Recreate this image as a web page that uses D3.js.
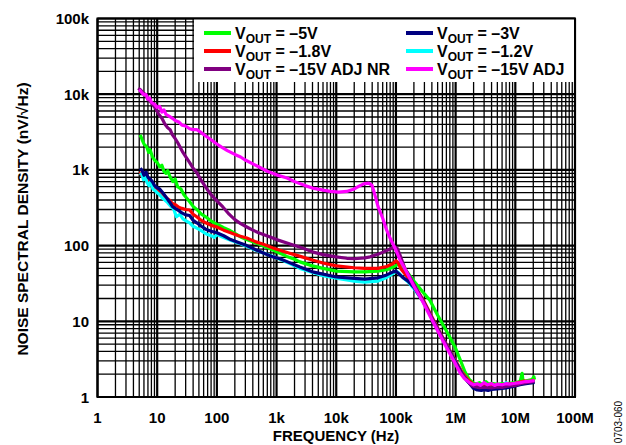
<!DOCTYPE html>
<html><head><meta charset="utf-8">
<script src="https://cdn.jsdelivr.net/npm/d3@7"></script>
<style>body{margin:0;background:#fff}svg{display:block}text{font-family:"Liberation Sans",Arial,sans-serif}</style>
</head><body><svg id="c" width="626" height="445"></svg>
<script>
const xTickLabels = ["1","10","100","1k","10k","100k","1M","10M","100M"];
const yTickLabels = ["1","10","100","1k","10k","100k"];
const legendNames = ["= \u20135V","= \u20131.8V","= \u201315V ADJ NR","= \u20133V","= \u20131.2V","= \u201315V ADJ"];
const legendColors = ["#00ff00","#ff0000","#800080","#000080","#00ffff","#ff00ff"];

const vout5 = [[5.2,2900],[5.6,2500],[6,2200],[6.7,2000],[7.2,1700],[7.6,1850],[8.3,1500],[9,1350],[10,1250],[11,1100],[12,1150],[13,950],[14,900],[15,980],[16.5,800],[18.4,700],[20,760],[22,600],[25,560],[28,470],[31.6,420],[35,380],[40,330],[46,300],[55,260],[65,240],[76,218],[90,200],[110,185],[130,172],[166,158],[200,145],[250,130],[300,122],[400,112],[590,100],[800,90],[1000,83],[1490,72],[2000,66],[2460,61],[4000,54],[6000,50],[10000,46],[20000,45],[30000,45],[50000,46],[70000,48],[90000,52],[110000,57],[125000,55],[150000,46],[200000,34],[300000,23],[370000,19],[500000,12],[700000,7.5],[1e6,4.4],[1.44e6,2.14],[1.7e6,1.7],[2e6,1.52],[2.3e6,1.5],[2.5e6,1.55],[2.8e6,1.45],[3.2e6,1.6],[3.6e6,1.48],[4e6,1.52],[5e6,1.47],[6e6,1.5],[7e6,1.5],[8e6,1.52],[1e7,1.55],[1.2e7,1.6],[1.3e7,2.05],[1.35e7,1.6],[1.6e7,1.65],[1.9e7,1.7],[2.05e7,1.85],[2.1e7,1.7]];
const vout18 = [[5.2,950],[5.6,820],[6,900],[6.5,760],[7,700],[7.6,740],[8.3,640],[9,600],[10,560],[11,520],[12.5,480],[14,430],[16,400],[18,360],[20,350],[23,320],[26,310],[30,300],[35,295],[40,260],[46,240],[55,215],[65,200],[80,185],[100,176],[130,160],[170,148],[230,135],[317,126],[450,112],[600,104],[870,93],[1140,87],[1600,80],[2500,72],[4100,64],[6000,59],[10000,54],[20000,51],[30000,50],[50000,50],[70000,53],[90000,58],[100000,63],[108000,60],[120000,50],[150000,40],[200000,30],[283000,19.5],[400000,11.5],[630000,5.8],[1e6,3],[1.3e6,2.1],[1.6e6,1.7],[2e6,1.45],[2.5e6,1.42],[3e6,1.5],[3.5e6,1.4],[4e6,1.45],[5e6,1.42],[6e6,1.46],[8e6,1.48],[1e7,1.52],[1.2e7,1.58],[1.4e7,1.62],[1.7e7,1.6],[2.1e7,1.68]];
const vout15nr = [[4.8,12000],[5.2,11500],[5.8,10400],[6.5,9800],[7,8500],[7.5,8200],[8.5,7200],[9.5,6400],[10.5,5500],[12,4800],[13.5,4000],[15,3600],[16.5,3400],[18,2900],[20,2600],[22,2300],[25,1900],[27,1700],[30,1500],[35,1250],[40,1050],[46,920],[55,720],[68,560],[80,470],[100,390],[126,324],[160,260],[200,220],[250,195],[317,176],[400,160],[500,148],[778,130],[1000,120],[1680,105],[2500,95],[4100,82],[6000,76],[10000,71],[15000,68],[20000,67],[30000,69],[37000,71],[50000,77],[61000,82],[80000,90],[96000,96],[105000,92],[117000,75],[141000,50],[200000,31],[283000,19],[400000,11],[630000,5.6],[1e6,2.8],[1.2e6,2.15],[1.5e6,1.7],[1.8e6,1.45],[2e6,1.38],[2.5e6,1.33],[3e6,1.35],[4e6,1.32],[5e6,1.36],[6e6,1.34],[7e6,1.38],[8e6,1.4],[1e7,1.42],[1.2e7,1.5],[1.5e7,1.55],[2e7,1.6],[2.1e7,1.62]];
const vout3 = [[5.2,1050],[5.6,980],[6,850],[6.5,930],[7,800],[7.6,760],[8.3,700],[9,620],[10,580],[11,560],[12.5,495],[14,440],[16,380],[18,330],[20,310],[23,290],[26,270],[30,255],[35,250],[40,215],[46,200],[55,180],[65,165],[80,155],[100,148],[130,135],[170,120],[230,110],[317,100],[450,88],[600,80],[870,71],[1140,67],[1600,60],[2460,52],[4000,45],[6000,42],[10000,38.5],[20000,37],[30000,36],[50000,37.5],[70000,41],[90000,45],[100000,46],[110000,43],[130000,38],[160000,34],[200000,28],[283000,18.5],[400000,11],[630000,5.6],[1e6,2.9],[1.3e6,2.0],[1.6e6,1.6],[2e6,1.3],[2.3e6,1.24],[2.7e6,1.22],[3e6,1.25],[3.5e6,1.22],[4e6,1.26],[5e6,1.28],[6e6,1.3],[7e6,1.32],[8e6,1.35],[1e7,1.4],[1.2e7,1.45],[1.5e7,1.5],[2e7,1.55],[2.1e7,1.56]];
const vout12 = [[5.2,850],[5.5,900],[5.9,740],[6.3,800],[6.8,680],[7.3,620],[7.8,700],[8.5,560],[9.3,530],[10,500],[11,470],[12,430],[13,410],[15,370],[17,330],[19,300],[21,240],[24,260],[27,225],[31,210],[35,200],[40,180],[46,170],[53,160],[60,150],[70,140],[80,135],[90,128],[100,140],[130,128],[170,118],[230,108],[317,98],[450,87],[600,80],[870,72],[1140,66],[1600,59],[2460,50],[4000,44],[6000,40],[10000,37],[20000,34],[30000,33],[50000,34],[70000,38],[90000,43],[100000,46],[110000,44],[130000,38],[160000,33],[200000,27],[283000,18.5],[400000,11],[630000,5.6],[1e6,2.9],[1.3e6,2.0],[1.6e6,1.6],[2e6,1.35],[2.5e6,1.3],[3e6,1.33],[4e6,1.3],[5e6,1.35],[6e6,1.38],[7e6,1.55],[7.3e6,1.4],[8e6,1.42],[1e7,1.45],[1.2e7,1.5],[1.5e7,1.55],[2e7,1.58],[2.1e7,1.6]];
const vout15adj = [[5,11500],[5.5,10500],[6,9800],[6.5,9900],[7,8600],[7.5,8900],[8,7800],[9,7400],[10,6700],[11,6900],[12,5800],[13,6200],[14,5400],[16,5100],[18,4800],[20,4500],[23,4300],[26,3900],[30,3800],[35,3500],[40,3400],[46,3400],[55,3100],[65,2800],[80,2500],[100,2200],[120,2000],[150,1800],[200,1600],[250,1480],[300,1350],[400,1200],[500,1100],[700,960],[1000,860],[1500,780],[2000,700],[3000,620],[4000,575],[6000,540],[8000,520],[11000,510],[15000,520],[20000,560],[25000,620],[30000,660],[35000,670],[40000,620],[45000,450],[50000,330],[60000,230],[70000,160],[80000,125],[96000,93],[120000,62],[150000,45],[200000,29],[283000,18],[400000,10.5],[630000,5.3],[1e6,2.7],[1.18e6,2.1],[1.4e6,1.75],[1.7e6,1.55],[2e6,1.45],[2.3e6,1.5],[2.6e6,1.42],[3e6,1.55],[3.4e6,1.45],[4e6,1.5],[4.5e6,1.42],[5e6,1.48],[6e6,1.45],[7e6,1.5],[8e6,1.48],[1e7,1.52],[1.2e7,1.55],[1.5e7,1.6],[1.8e7,1.62],[2.1e7,1.65]];

const seriesData = [vout5, vout18, vout15nr, vout3, vout12, vout15adj];
const drawOrder = [0,1,4,3,2,5];

const L = 97.5, R = 575, T = 18.5, B = 397;
const x = d3.scaleLog().domain([1,1e8]).range([L,R]);
const y = d3.scaleLog().domain([1,1e5]).range([B,T]);
const svg = d3.select("#c");

// grid
const xMinor = [], xMajor = [];
for (let e=0;e<8;e++){ for(let m=2;m<=9;m++) xMinor.push(m*Math.pow(10,e)); }
for (let e=0;e<=8;e++) xMajor.push(Math.pow(10,e));
const yMinor = [], yMajor = [];
for (let e=0;e<5;e++){ for(let m=2;m<=9;m++) yMinor.push(m*Math.pow(10,e)); }
for (let e=0;e<=5;e++) yMajor.push(Math.pow(10,e));
const g = svg.append("g");
g.selectAll(".xm").data(xMinor).join("line").attr("x1",d=>x(d)).attr("x2",d=>x(d)).attr("y1",T).attr("y2",B).attr("stroke","#000").attr("stroke-width",1.3);
g.selectAll(".ym").data(yMinor).join("line").attr("y1",d=>y(d)).attr("y2",d=>y(d)).attr("x1",L).attr("x2",R).attr("stroke","#000").attr("stroke-width",1.3);
g.selectAll(".xM").data(xMajor).join("line").attr("x1",d=>x(d)).attr("x2",d=>x(d)).attr("y1",T).attr("y2",B).attr("stroke","#000").attr("stroke-width",2.2);
g.selectAll(".yM").data(yMajor).join("line").attr("y1",d=>y(d)).attr("y2",d=>y(d)).attr("x1",L).attr("x2",R).attr("stroke","#000").attr("stroke-width",2.2);

// curves
const line = d3.line().x(d=>x(d[0])).y(d=>y(d[1]));
drawOrder.forEach(i=>{
  svg.append("path").datum(seriesData[i]).attr("d",line).attr("fill","none")
    .attr("stroke",legendColors[i]).attr("stroke-width",3.2).attr("stroke-linejoin","round");
});

// legend box
svg.append("rect").attr("x",194).attr("y",T).attr("width",R-194).attr("height",82-T).attr("fill","#fff");
const lg = svg.append("g");
legendNames.forEach((name,i)=>{
  const col = Math.floor(i/3), row = i%3;
  const lx = col===0 ? 204 : 406;
  const ly = 33 + row*18;
  lg.append("line").attr("x1",lx).attr("x2",lx+27).attr("y1",ly).attr("y2",ly).attr("stroke",legendColors[i]).attr("stroke-width",4);
  const t = lg.append("text").attr("x",lx+31).attr("y",ly+6).attr("font-size",16).attr("font-weight","bold");
  t.append("tspan").text("V");
  t.append("tspan").attr("font-size",12).attr("dy",4).text("OUT");
  t.append("tspan").attr("dy",-4).text(" "+name);
});

// frame
svg.append("rect").attr("x",L).attr("y",T).attr("width",R-L).attr("height",B-T).attr("fill","none").attr("stroke","#000").attr("stroke-width",2);

// tick labels
svg.selectAll(".xt").data(xTickLabels).join("text").attr("x",(d,i)=>x(Math.pow(10,i))).attr("y",423)
  .attr("text-anchor","middle").attr("font-size",15).attr("font-weight","bold").text(d=>d);
svg.selectAll(".yt").data(yTickLabels).join("text").attr("x",89).attr("y",(d,i)=>y(Math.pow(10,i))+5.5)
  .attr("text-anchor","end").attr("font-size",15).attr("font-weight","bold").text(d=>d);

svg.append("text").attr("transform","translate(28,219) rotate(-90)").attr("text-anchor","middle")
  .attr("font-size",15.5).attr("font-weight","bold").text("NOISE SPECTRAL DENSITY (nV/\u221AHz)");
svg.append("text").attr("x",336).attr("y",441).attr("text-anchor","middle")
  .attr("font-size",15).attr("font-weight","bold").text("FREQUENCY (Hz)");
svg.append("text").attr("transform","translate(622,422) rotate(-90)").attr("text-anchor","middle")
  .attr("font-size",10).text("0703-060");
</script></body></html>
